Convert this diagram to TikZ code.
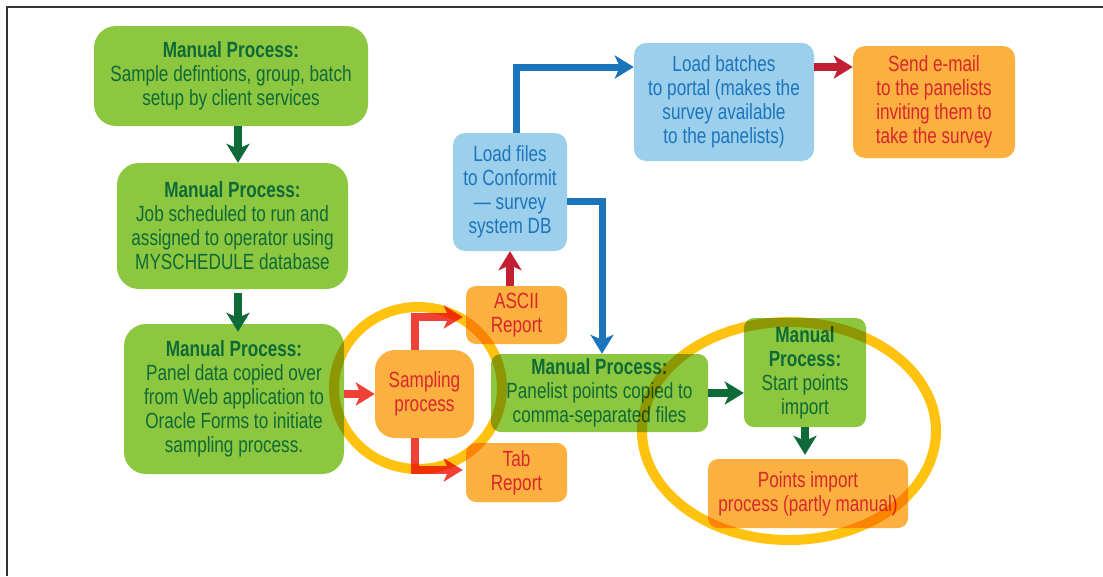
\documentclass[tikz,border=0pt]{standalone}
\usepackage{fontspec}
\setmainfont{Liberation Sans}[FakeStretch=0.78]
\usetikzlibrary{arrows.meta}
\definecolor{gfill}{HTML}{8DC63F}
\definecolor{gtext}{HTML}{0E6B38}
\definecolor{ofill}{HTML}{FBB040}
\definecolor{otext}{HTML}{D9272E}
\definecolor{bfill}{HTML}{9BCFEB}
\definecolor{btext}{HTML}{1C75BC}
\definecolor{barrow}{HTML}{1B75BC}
\definecolor{rarrow}{HTML}{EF4136}
\definecolor{carrow}{HTML}{C21F32}
\definecolor{garrow}{HTML}{0E6B38}
\definecolor{ring}{HTML}{FFC20E}
\tikzset{
  box/.style={align=center, inner sep=0pt, font=\fontsize{22}{24}\selectfont},
  gbox/.style={box, fill=gfill, text=gtext, rounded corners=22pt},
  obox/.style={box, fill=ofill, text=otext, rounded corners=10pt},
  bbox/.style={box, fill=bfill, text=btext, rounded corners=12pt},
  arr/.style={line width=8pt, line join=miter, -{Stealth[length=19pt,width=23pt,inset=5pt]}},
  garr/.style={arr, draw=garrow},
  rarr/.style={arr, draw=rarrow},
  carr/.style={arr, draw=carrow},
  barr/.style={arr, draw=barrow, line width=7pt},
  ringstyle/.style={draw=ring, line width=10pt}
}
\begin{document}
\begin{tikzpicture}[x=1pt,y=-1pt]
\useasboundingbox (0,0) rectangle (1103,576);
\draw[line width=2pt, black!80] (7,576) -- (7,7) -- (1103,7);

\node[gbox, minimum width=274pt, minimum height=100pt] (n1) at (231,76)
  {\textbf{Manual Process:}\\Sample defintions, group, batch\\setup by client services};
\node[gbox, minimum width=231pt, minimum height=126pt] (n2) at (232.5,226)
  {\textbf{Manual Process:}\\Job scheduled to run and\\assigned to operator using\\MYSCHEDULE database};
\node[gbox, minimum width=220pt, minimum height=150pt] (n3) at (234,399)
  {\textbf{Manual Process:}\\Panel data copied over\\from Web application to\\Oracle Forms to initiate\\sampling process.};
\node[obox, rounded corners=20pt, minimum width=99pt, minimum height=88pt] (samp) at (424.5,394)
  {Sampling\\process};
\node[obox, minimum width=101pt, minimum height=58pt] (ascii) at (516.5,315) {ASCII\\Report};
\node[obox, minimum width=101pt, minimum height=59pt] (tab) at (516.5,472.5) {Tab\\Report};
\node[bbox, minimum width=114pt, minimum height=118pt] (load) at (510,192)
  {Load files\\to Conformit\\— survey\\system DB};
\node[gbox, rounded corners=10pt, minimum width=217pt, minimum height=78pt] (mp4) at (599.5,393)
  {\textbf{Manual Process:}\\Panelist points copied to\\comma-separated files};
\node[gbox, rounded corners=10pt, minimum width=122pt, minimum height=109pt] (mp5) at (805,372.5)
  {\textbf{Manual}\\\textbf{Process:}\\Start points\\import};
\node[obox, minimum width=200pt, minimum height=69pt] (pimp) at (808,493.5)
  {Points import\\process (partly manual)};
\node[bbox, minimum width=180pt, minimum height=118pt] (batch) at (724,102)
  {Load batches\\to portal (makes the\\survey available\\to the panelists)};
\node[obox, rounded corners=12pt, minimum width=162pt, minimum height=112pt] (send) at (934,102)
  {Send e-mail\\to the panelists\\inviting them to\\take the survey};

\draw[garr] ([xshift=7pt]n1.south) -- ([xshift=5.5pt]n2.north);
\draw[garr] ([xshift=5.5pt,yshift=-4pt]n2.south) -- ([xshift=4pt,yshift=-8pt]n3.north);
\draw[rarr] (n3.east |- samp.west) -- (samp.west);
\draw[rarr] ([xshift=-9.5pt]samp.north) |- ([xshift=-3pt,yshift=-2pt]ascii.west);
\draw[rarr] ([xshift=-9.5pt]samp.south) |- ([xshift=-3pt,yshift=2.5pt]tab.west);
\draw[carr] (load.south |- ascii.north) -- (load.south);
\draw[barr] ([xshift=6pt]load.north) |- ([yshift=35pt]batch.west);
\draw[barr] ([yshift=-9pt]load.east) -| ([xshift=2.5pt]mp4.north);
\draw[garr] (mp4.east) -- (mp4.east -| mp5.west);
\draw[garr] (mp5.south) -- ([yshift=4pt]mp5.south |- pimp.north);
\draw[carr] ([yshift=35pt]batch.east) -- ([yshift=35pt]send.west);

\begin{scope}[blend mode=multiply]
\draw[ringstyle] (418,388) ellipse [x radius=84pt, y radius=81pt];
\draw[ringstyle] (789,431) ellipse [x radius=147pt, y radius=109pt];
\end{scope}
\end{tikzpicture}
\end{document}
